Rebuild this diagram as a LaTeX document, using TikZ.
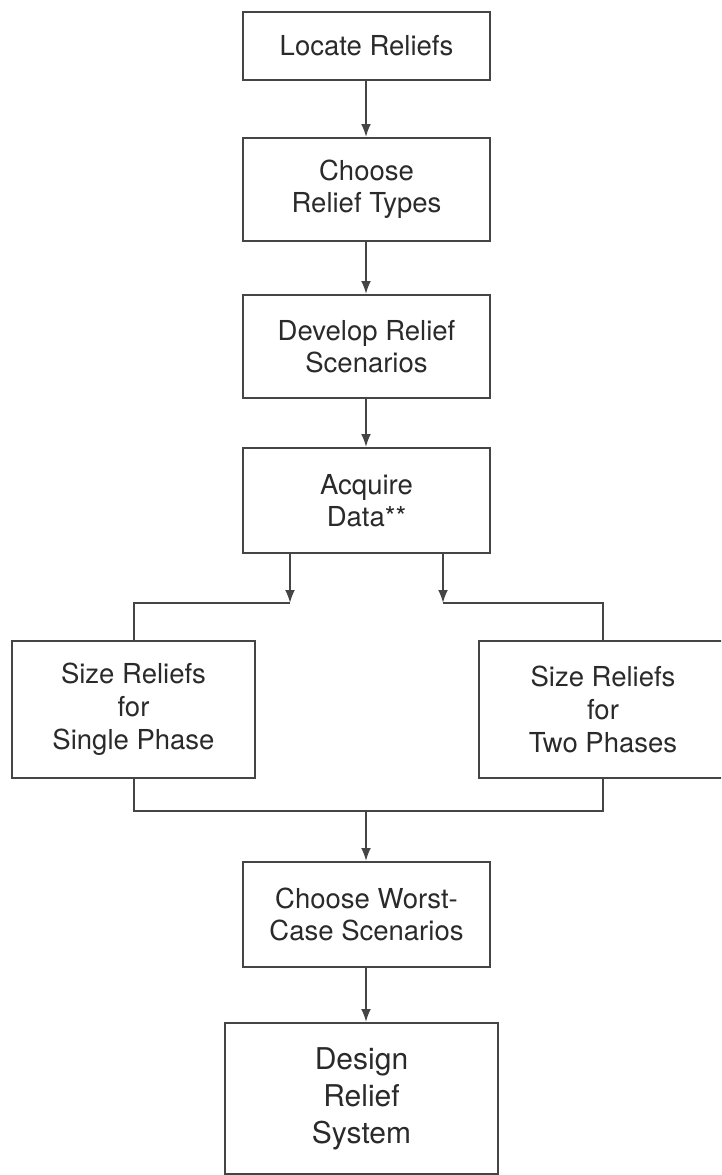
\documentclass[tikz,border=0pt]{standalone}
\usepackage{fontspec}
\setmainfont{TeX Gyre Heros}
\usetikzlibrary{arrows.meta}

\definecolor{boxline}{HTML}{454545}
\definecolor{boxtext}{HTML}{2A2A2A}

\begin{document}
\begin{tikzpicture}[x=1pt, y=-1pt, >={Latex[length=13pt,width=10pt]}, line width=2pt,
  stepbox/.style={draw=boxline, text=boxtext, align=center, inner sep=0pt,
    minimum width=247pt, font=\fontsize{27.5}{32}\selectfont},
  link/.style={draw=boxline}]

  % Page frame (the right box runs off the edge)
  \useasboundingbox (0,0) rectangle (721,1175);
  \clip (0,0) rectangle (721,1175);

  % Main column of steps
  \node[stepbox, minimum height=68pt]  (locate)   at (366.5,46)    {Locate Reliefs};
  \node[stepbox, minimum height=103pt] (types)    at (366.5,189.5) {Choose\\Relief Types};
  \node[stepbox, minimum height=103pt] (scenario) at (366.5,346.5) {Develop Relief\\Scenarios};
  \node[stepbox, minimum height=105pt] (acquire)  at (366.5,500.5) {Acquire\\Data**};

  % The two sizing branches
  \node[stepbox, minimum width=243pt, minimum height=137pt,
    font=\fontsize{27.5}{33}\selectfont] (single) at (133.5,709.5) {Size Reliefs\\for\\Single Phase};
  \node[stepbox, minimum width=248pt, minimum height=137pt,
    font=\fontsize{27.5}{33}\selectfont] (twophase) at (603,709.5) {Size Reliefs\\for\\Two Phases};

  % Merge and final steps
  \node[stepbox, minimum height=105pt] (worst)  at (366.5,914.5) {Choose Worst-\\Case Scenarios};
  \node[stepbox, minimum width=273pt, minimum height=151pt,
    font=\fontsize{30}{37}\selectfont] (design) at (361.5,1098.5) {Design\\Relief\\System};

  % Junction points
  \coordinate (splitL) at (290,603);
  \coordinate (splitR) at (443,603);
  \coordinate (merge)  at (366,811);

  % Straight arrows down the column
  \draw[link, ->] (locate.south -| merge) -- (types.north -| merge);
  \draw[link, ->] (types.south -| merge) -- (scenario.north -| merge);
  \draw[link, ->] (scenario.south -| merge) -- (acquire.north -| merge);

  % Split into the two branches
  \draw[link, ->] (acquire.south -| splitL) -- (splitL);
  \draw[link, ->] (acquire.south -| splitR) -- (splitR);
  \draw[link] (splitL) -- (splitL -| single) -- (single.north);
  \draw[link] (splitR) -- (splitR -| twophase) -- (twophase.north);

  % Join the branches again
  \draw[link] (single.south) -- (merge -| single) -- (merge -| twophase) -- (twophase.south);
  \draw[link, ->] (merge) -- (worst.north -| merge);
  \draw[link, ->] (worst.south -| merge) -- (design.north -| merge);

\end{tikzpicture}
\end{document}
